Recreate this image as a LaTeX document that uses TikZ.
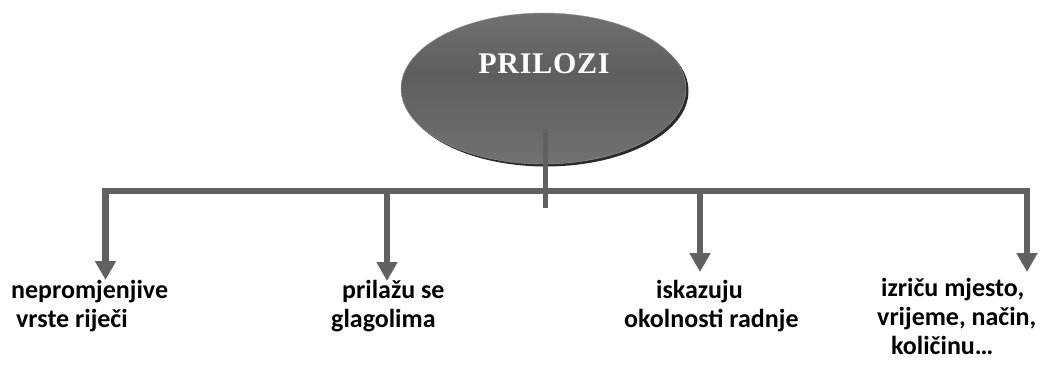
\documentclass[tikz,border=0pt]{standalone}
\usepackage{fontspec}
\setmainfont{Carlito}
\newfontfamily\titlefont[LetterSpace=2.5]{Liberation Serif}
\usetikzlibrary{arrows.meta,shapes.geometric}
\definecolor{linegray}{HTML}{616161}
\definecolor{shadegray}{HTML}{2B2B2B}
\pgfdeclareverticalshading{ovalshade}{100bp}{
  color(0bp)=(black!47);
  color(30bp)=(black!57);
  color(55bp)=(black!63);
  color(80bp)=(black!54);
  color(100bp)=(black!42)}
\tikzset{
  labeltext/.style={font=\bfseries\fontsize{26}{29}\selectfont, align=left, inner sep=0pt, anchor=base west},
  conn/.style={draw=linegray, line width=6.5pt},
  arr/.style={conn, -{Triangle[length=19pt,width=20pt]}},
}
\begin{document}
\begin{tikzpicture}[x=1pt,y=-1pt]
\useasboundingbox (0,0) rectangle (1043,364);
% ellipse with shadow
\fill[shadegray] (546,91) ellipse [x radius=142.5, y radius=75.5];
\node (oval) [ellipse, minimum width=285pt, minimum height=151pt, inner sep=0pt,
  shading=ovalshade, draw=black!40, line width=0.4pt] at (543.5,88.5) {};
\node (title) [text=white, font=\titlefont\bfseries\fontsize{30}{30}\selectfont, inner sep=0pt, anchor=base] at (544,73.5) {PRILOZI};
% stem
\coordinate (stemtop) at (545,129);
\coordinate (stembot) at (545,208);
\draw[draw=linegray, line width=5pt] (stemtop) -- (stembot);
% bar and arrows
\coordinate (b1) at (105.5,191);
\coordinate (b2) at (387,191);
\coordinate (b3) at (700,191);
\coordinate (b4) at (1027,191);
\coordinate (t1) at (105.5,280);
\coordinate (t2) at (387,281);
\coordinate (t3) at (700,272);
\coordinate (t4) at (1027,272);
\draw[arr, {Triangle[length=19pt,width=20pt]}-{Triangle[length=19pt,width=20pt]}, line join=miter] (t1) -- (b1) -- (b4) -- (t4);
\draw[arr] (b2) -- (t2);
\draw[arr] (b3) -- (t3);
% labels (anchored at the baseline of their last line)
\node (l1) [labeltext] at (11,327) {nepromjenjive\\\hspace*{5pt}vrste riječi};
\node (l2) [labeltext] at (331,327) {\hspace*{11pt}prilažu se\\glagolima};
\node (l3) [labeltext] at (624,327) {\hspace*{32pt}iskazuju\\okolnosti radnje};
\node (l4) [labeltext] at (877,354) {\hspace*{4pt}izriču mjesto,\\vrijeme, način,\\\hspace*{14pt}količinu…};
\end{tikzpicture}
\end{document}
